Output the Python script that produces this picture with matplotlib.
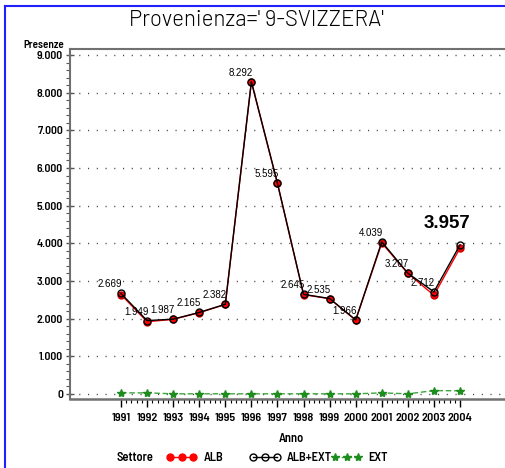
import matplotlib
matplotlib.use("Agg")
import matplotlib.pyplot as plt
from matplotlib.lines import Line2D
from matplotlib.ticker import FixedLocator, FuncFormatter
from matplotlib import font_manager

years = [1991, 1992, 1993, 1994, 1995, 1996, 1997, 1998, 1999, 2000, 2001, 2002, 2003, 2004]
alb_ext = [2669, 1949, 1987, 2165, 2382, 8292, 5595, 2645, 2535, 1966, 4039, 3207, 2712, 3957]
ext = [30, 30, 5, 5, 5, 5, 5, 5, 5, 5, 30, 5, 90, 85]
alb = [t - e for t, e in zip(alb_ext, ext)]
y_ticks = [0, 1000, 2000, 3000, 4000, 5000, 6000, 7000, 8000, 9000]

W, H = 506, 468
fig = plt.figure(figsize=(W / 100, H / 100), dpi=100)

avail = {f.name for f in font_manager.fontManager.ttflist}

def pick(cands):
    for c in cands:
        if c in avail:
            return c
    return 'DejaVu Sans'

narrow = pick(['Barlow Semi Condensed', 'Barlow Condensed', 'Archivo Narrow'])
title_font = pick(['Barlow', 'Barlow Semi Condensed', 'Barlow Condensed'])
arial = 'Liberation Sans'

def px(x, y):
    return x / W, 1 - y / H

left, right, top, bottom = 70, 540, 49, 399
ax = fig.add_axes([left / W, (H - bottom) / H, (right - left) / W, (bottom - top) / H])

ppy = (460 - 121) / 13.0
ax.set_xlim(1991 - (121 - left) / ppy, 2004 + (right - 460) / ppy)
ppv = (394 - 55) / 9000.0
ax.set_ylim(-(bottom - 394) / ppv, 9000 + (55 - top) / ppv)

for v in y_ticks:
    ax.axhline(v, color='#444444', lw=1.0, ls=(0, (0.8, 5.5)), zorder=1)

ax.plot(years, ext, color='#3aa83a', ls=(0, (4, 2)), lw=1.0, marker='*', ms=6,
        mfc='#1e8c1e', mec='#1e8c1e', zorder=3)
ax.plot(years, alb, color='red', lw=1.0, marker='o', ms=5, mfc='red', mec='#cc0000', zorder=4)
ax.plot(years, alb_ext, color='black', lw=1.0, marker='o', ms=5, mfc='none', mec='black', zorder=5)

def fmt(v):
    return f"{int(v):,}".replace(',', '.')

for i, (x, v) in enumerate(zip(years, alb_ext)):
    if i == len(years) - 1:
        ax.annotate(fmt(v), (x, v), xytext=(-13, 21), textcoords='offset pixels',
                    ha='center', va='center', fontsize=13.5, fontweight='bold',
                    family=arial, zorder=6)
    else:
        ax.annotate(fmt(v), (x, v), xytext=(-11, 9), textcoords='offset pixels',
                    ha='center', va='center', fontsize=7, family=arial, zorder=6)

for s in ['left', 'bottom', 'top']:
    ax.spines[s].set_color('#707070')
ax.spines['left'].set_linewidth(1.5)
ax.spines['bottom'].set_linewidth(1.8)
ax.spines['top'].set_linewidth(1.5)
ax.spines['right'].set_visible(False)

ax.xaxis.set_major_locator(FixedLocator(years))
ax.xaxis.set_minor_locator(FixedLocator([1991 + k * 0.2 for k in range(66)]))
ax.set_xticklabels([str(y) for y in years], fontsize=8.8, fontweight=600, family=narrow)
ax.tick_params(axis='x', which='major', direction='out', length=6, width=1, color='black', pad=4)
ax.tick_params(axis='x', which='minor', direction='out', length=3, width=0.8, color='black')

ax.yaxis.set_major_locator(FixedLocator(y_ticks))
ax.yaxis.set_minor_locator(FixedLocator([k * 200 for k in range(46)]))
ax.yaxis.set_major_formatter(FuncFormatter(lambda v, p: fmt(v)))
ax.tick_params(axis='y', which='major', direction='inout', length=6, width=1, color='#555555', pad=2,
               labelsize=8.5)
ax.tick_params(axis='y', which='minor', direction='out', length=3, width=0.8, color='#555555')
for lab in ax.yaxis.get_ticklabels():
    lab.set_family(narrow)
    lab.set_fontweight(600)

fig.text(*px(256, 21), "Provenienza=' 9-SVIZZERA'", ha='center', va='center',
         fontsize=16, family=title_font, fontweight=300)
fig.text(*px(44, 45), "Presenze", ha='center', va='center', fontsize=8, fontweight=600, family=narrow)
fig.text(*px(291, 439), "Anno", ha='center', va='center', fontsize=9, fontweight=600, family=narrow)
fig.text(*px(135, 458), "Settore", ha='center', va='center', fontsize=9, fontweight=600, family=narrow)

entries = [
    (Line2D([], [], color='red', lw=1, marker='o', ms=5, mfc='red', mec='red'), 'ALB', 166),
    (Line2D([], [], color='black', lw=1, marker='o', ms=5, mfc='none', mec='black'), 'ALB+EXT', 249),
    (Line2D([], [], color='#3aa83a', lw=1, ls=(0, (3, 1.5)), marker='*', ms=6, mfc='#1e8c1e', mec='#1e8c1e'), 'EXT', 331),
]
for h, lab, x0 in entries:
    fig.legend([h], [lab], loc='center left', bbox_to_anchor=px(x0, 458),
               frameon=False, numpoints=3, handlelength=2.5, handletextpad=0.5,
               borderaxespad=0, borderpad=0,
               prop={'family': narrow, 'weight': 600, 'size': 9})

fig.add_artist(Line2D([5 / W, 1], [1 - 5.5 / H, 1 - 5.5 / H], transform=fig.transFigure, color='#2020ff', lw=1.5))
fig.add_artist(Line2D([5 / W, 5 / W], [0, 1 - 5.5 / H], transform=fig.transFigure, color='#2020ff', lw=1.5))

fig.savefig('out.png', dpi=100)
